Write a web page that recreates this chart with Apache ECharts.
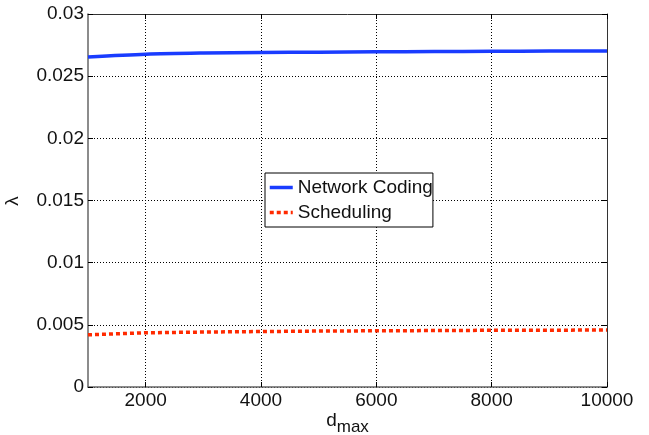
<!DOCTYPE html>
<html><head><meta charset="utf-8">
<script src="https://cdn.jsdelivr.net/npm/echarts@6/dist/echarts.min.js"></script>
<style>html,body{margin:0;padding:0;background:#fff}#c{width:649px;height:435px}</style>
</head><body><div id="c"></div>
<script>
const dmax = [1000, 2000, 3000, 4000, 5000, 6000, 7000, 8000, 9000, 10000];
const networkCoding = [0.02655, 0.02677, 0.02686, 0.02690, 0.02693, 0.02696, 0.02698, 0.02700, 0.02702, 0.02703];
const scheduling = [0.00420, 0.00436, 0.00442, 0.00446, 0.00450, 0.00452, 0.00454, 0.00456, 0.00457, 0.00458];
const xTicks = [2000, 4000, 6000, 8000, 10000];
const seriesNames = ['Network Coding', 'Scheduling'];
const yAxisTitle = 'λ';

const font = 'Liberation Sans, Arial, sans-serif';
const X_MIN = 1000, X_MAX = 10000;
const L = 88, R = 42, T = 14, B = 48;
const plotW = 649 - L - R;
const gridOffset = plotW * X_MIN / (X_MAX - X_MIN);
const chart = echarts.init(document.getElementById('c'), null, {renderer: 'canvas'});
const gridLine = {show: true, lineStyle: {color: '#000', type: [1, 2], width: 1}};
chart.setOption({
  animation: false,
  grid: [
    {left: L, right: R, top: T, bottom: B, outerBoundsMode: 'none', containLabel: false},
    {left: L - gridOffset, right: R, top: T, bottom: B, outerBoundsMode: 'none', containLabel: false}
  ],
  graphic: [{
    type: 'text', x: 13, y: 201, rotation: Math.PI / 2,
    style: {text: yAxisTitle, font: '19px ' + font, fill: '#111', align: 'center', verticalAlign: 'middle'}
  }],
  legend: {
    data: seriesNames,
    orient: 'vertical',
    left: 265, top: 173,
    backgroundColor: '#fff',
    borderColor: '#000', borderWidth: 1,
    borderRadius: 0,
    padding: [5, 0, 5, 3],
    itemGap: 6,
    itemWidth: 23, itemHeight: 12,
    itemStyle: {opacity: 0},
    lineStyle: {width: 3.5},
    textStyle: {fontFamily: font, fontSize: 19, color: '#111'}
  },
  xAxis: [{
    type: 'value', min: X_MIN, max: X_MAX, gridIndex: 0,
    name: '{d|d}{s|max}', nameLocation: 'middle', nameGap: 24, nameMoveOverlap: false,
    nameTextStyle: {verticalAlign: 'top', rich: {
      d: {fontFamily: font, fontSize: 19, color: '#111', verticalAlign: 'bottom', padding: [0, 0, 6, 0]},
      s: {fontFamily: font, fontSize: 17, color: '#111', verticalAlign: 'bottom'}
    }},
    axisLine: {show: true, lineStyle: {color: '#666', width: 1.5}},
    axisTick: {show: true, inside: true, length: 5, lineStyle: {color: '#000'}, customValues: xTicks},
    axisLabel: {fontFamily: font, fontSize: 19, color: '#111', margin: 4, customValues: xTicks,
      formatter: v => String(v)},
    splitLine: {show: false}
  }, {
    type: 'value', min: X_MIN, max: X_MAX, position: 'top', gridIndex: 0,
    axisLine: {show: true, onZero: false, lineStyle: {color: '#333', width: 1}},
    axisTick: {show: true, inside: true, length: 5, lineStyle: {color: '#000'}, customValues: xTicks},
    axisLabel: {show: false}, splitLine: {show: false}
  }, {
    type: 'value', min: 0, max: X_MAX, interval: 2000, gridIndex: 1,
    axisLine: {show: false}, axisTick: {show: false}, axisLabel: {show: false},
    splitLine: {show: true, showMinLine: false, showMaxLine: false,
      lineStyle: {color: '#000', type: [1, 2], width: 1}}
  }],
  yAxis: [{
    type: 'value', min: 0, max: 0.03, interval: 0.005, gridIndex: 0,
    axisLine: {show: true, lineStyle: {color: '#666', width: 1.5}},
    axisTick: {show: true, inside: true, length: 5, lineStyle: {color: '#000'}},
    axisLabel: {fontFamily: font, fontSize: 19, color: '#111', margin: 4},
    splitLine: gridLine
  }, {
    type: 'value', min: 0, max: 0.03, interval: 0.005, position: 'right', gridIndex: 0,
    axisLine: {show: true, onZero: false, lineStyle: {color: '#333', width: 1}},
    axisTick: {show: true, inside: true, length: 5, lineStyle: {color: '#000'}},
    axisLabel: {show: false}, splitLine: {show: false}
  }, {
    type: 'value', min: 0, max: 0.03, gridIndex: 1,
    axisLine: {show: false}, axisTick: {show: false}, axisLabel: {show: false}, splitLine: {show: false}
  }],
  series: [{
    name: seriesNames[0], type: 'line', showSymbol: false, symbol: 'none', smooth: 0.3,
    xAxisIndex: 0, yAxisIndex: 0,
    data: dmax.map((x, i) => [x, networkCoding[i]]),
    lineStyle: {color: '#1a3cff', width: 3.5}, itemStyle: {color: '#1a3cff'}
  }, {
    name: seriesNames[1], type: 'line', showSymbol: false, symbol: 'none',
    xAxisIndex: 0, yAxisIndex: 0,
    data: dmax.map((x, i) => [x, scheduling[i]]),
    lineStyle: {color: '#ff2a00', width: 3.5, type: [4, 3]}, itemStyle: {color: '#ff2a00'}
  }]
});
</script></body></html>
